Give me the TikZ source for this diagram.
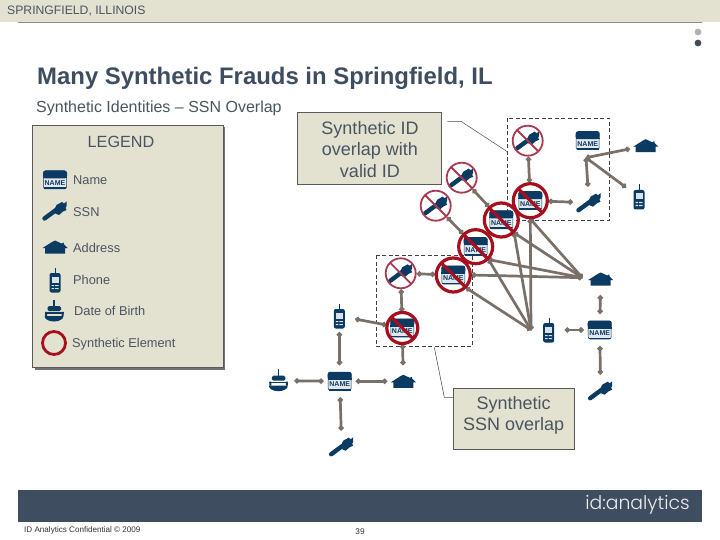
\documentclass[tikz,border=0pt]{standalone}
\usepackage{fontspec}
\setmainfont{Liberation Sans}
\newfontfamily\logofont{Poppins Light}
\usetikzlibrary{arrows.meta}
\definecolor{navy}{HTML}{0B3A63}
\definecolor{tan}{HTML}{E3E1CF}
\definecolor{slatec}{HTML}{3F4D60}
\definecolor{textc}{HTML}{4A5562}
\definecolor{linkc}{HTML}{7A706A}
\definecolor{redc}{HTML}{A50F1E}
\definecolor{redl}{HTML}{A83A52}
\tikzset{
  x=1pt,y=-1pt,
  spot/.style={circle,inner sep=0pt,minimum size=32pt},
  spotbig/.style={circle,inner sep=0pt,minimum size=36pt},
  link/.style={draw=linkc,line width=2.7pt,{Circle[length=5pt,width=5pt]}-{Circle[length=5pt,width=5pt]}},
  dashbox/.style={draw=black!75,line width=0.6pt,dash pattern=on 4pt off 2.5pt},
  leader/.style={draw=black!70,line width=0.5pt},
  callout/.style={draw=black!65,line width=0.7pt,fill=tan},
  txt/.style={text=textc,inner sep=0pt},
  leglabel/.style={txt,anchor=west,font=\fontsize{12.8}{14}\selectfont},
  pics/nameic/.style={code={
    \fill[fill=white!88!navy,draw=navy,line width=0.5pt,rounded corners=2pt] (-11.5,-9)rectangle(11.5,9);
    \fill[navy,rounded corners=2.5pt] (-12,-1.5)--(-12,-9.5)--(12,-9.5)--(12,-1.5)--cycle;
    \fill[navy] (-12,-3) rectangle (12,-1.5);
    \fill[navy] (-11,7.5) rectangle (11,9.2);
    \node[inner sep=0pt,text=navy,font=\fontsize{7}{8}\selectfont\bfseries] at (0,3) {NAME};
  }},
  pics/keyic/.style={code={
    \draw[navy,line width=4.4pt,line cap=round] (-10.5,7.5)--(1,-1);
    \fill[navy] (-2,1.5)--(1.5,-6)--(7,-9)--(9,-7.5)--(11.5,-9.5)--(11.5,-5)--(10.5,-3)--(11.5,-1)--(8,0.5)--(4,4)--cycle;
  }},
  pics/houseic/.style={code={
    \fill[navy] (-12.5,1)--(-3,-5)--(0,-6.5)--(6.5,-3.5)--(8.5,-4.5)--(9,-2.5)--(12.5,1)--(10,1)--(10,6.5)--(-10,6.5)--(-10,1)--cycle;
  }},
  pics/phoneic/.style={code={
    \draw[navy,line width=0.9pt] (0.5,-12.5)--(0.5,-6);
    \fill[navy,rounded corners=2pt] (-5.5,-7)rectangle(5.5,12.5);
    \fill[white!85!navy] (-3.5,-3.5)rectangle(3.5,2.5);
    \fill[white!85!navy] (-3.5,5)rectangle(-1,6.2) (0,5)rectangle(3.5,6.2) (-3.5,8)rectangle(-1,9.2) (0,8)rectangle(3.5,9.2);
  }},
  pics/cakeic/.style={code={
    \draw[navy,line width=1.2pt] (0,-11.5)--(0,-4);
    \fill[navy,rounded corners=1.5pt] (-6.5,-5)rectangle(7,0);
    \fill[navy] (-9,0.8)--(9.5,0.8)--(9.5,2.5)--(-9,2.5)--cycle;
    \fill[navy] (-9.5,5)--(9.5,5) arc[start angle=0,end angle=-180,x radius=9.5,y radius=-5.5]--cycle;
    \fill[navy] (-9,0.8) rectangle (-7,5) (7.5,0.8) rectangle (9.5,5);
  }},
  pics/crossmark/.style n args={3}{code={
    \draw[#3,line width=#2pt] (0,0) circle[radius=#1];
    \draw[#3,line width=#2pt] (-#1*0.72,-#1*0.72)--(#1*0.72,#1*0.72);
  }},
}
\begin{document}
\begin{tikzpicture}
\useasboundingbox (0,0) rectangle (720,540);
\fill[white] (0,0) rectangle (720,540);
% header
\fill[tan] (0,0) rectangle (720,22);
\draw[black!45,line width=0.8pt] (18,22.3)--(702,22.3);
\node[txt,anchor=west,font=\fontsize{12.2}{14}\selectfont] (hdr) at (7,11.5) {SPRINGFIELD, ILLINOIS};
\fill[black!30] (698,32) circle[radius=3.4];
\fill[slatec] (698,43) circle[radius=3.4];
\node[anchor=west,inner sep=0pt,text=slatec,font=\fontsize{23.9}{27}\selectfont\bfseries] (title) at (37,78) {Many Synthetic Frauds in Springfield, IL};
\node[txt,anchor=west,font=\fontsize{16}{18}\selectfont] (sub) at (36,108.5) {Synthetic Identities – SSN Overlap};
% footer
\fill[slatec] (18,490) rectangle (702,522);
\node[anchor=east,inner sep=0pt,text=white!90!slatec,font=\logofont\fontsize{18.8}{20}\selectfont] (logo) at (690,505) {id:analytics};
\node[anchor=west,inner sep=0pt,text=black!80,font=\fontsize{8.1}{10}\selectfont] (conf) at (24,530) {ID Analytics Confidential © 2009};
\node[inner sep=0pt,text=black!80,font=\fontsize{8.3}{10}\selectfont] (pg) at (360,532) {39};
% legend
\fill[black!55] (35,127.5) rectangle (225,369.5);
\draw[callout] (32.8,125.3) rectangle (223,367.3);
\node[txt,font=\fontsize{16.2}{18}\selectfont] (leg) at (121,141.5) {LEGEND};
\pic at (55,180) {nameic};
\pic at (55,211) {keyic};
\pic at (55,247) {houseic};
\pic at (55,280) {phoneic};
\pic at (54,311) {cakeic};
\draw[redc,line width=2.8pt] (54,343) circle[radius=11.5];
\node[leglabel] (l1) at (73,180) {Name};
\node[leglabel] (l2) at (73,212) {SSN};
\node[leglabel] (l3) at (73,248) {Address};
\node[leglabel] (l4) at (73,280) {Phone};
\node[leglabel] (l5) at (74,311) {Date of Birth};
\node[leglabel] (l6) at (72,344) {Synthetic Element};
% dashed boxes
\draw[dashbox] (507.3,118.3) rectangle (609.7,220.3);
\draw[dashbox] (376.3,255.3) rectangle (472.3,346.3);
% callouts
\draw[callout] (297.2,112) rectangle (441.2,184);
\node[inner sep=0pt,text=textc,align=center,font=\fontsize{18}{21.5}\selectfont] (c1) at (370,149.5) {Synthetic ID\\overlap with\\valid ID};
\draw[callout] (453.3,388) rectangle (574,449);
\node[inner sep=0pt,text=textc,align=center,font=\fontsize{18}{21}\selectfont] (c2) at (513.7,415) {Synthetic\\SSN overlap};
\coordinate (la) at (447.3,121.3);
\coordinate (lb) at (461,121.3);
\coordinate (lc) at (507.3,151.7);
\draw[leader] (la)--(lb)--(lc);
\coordinate (ld) at (434.3,347.3);
\coordinate (le) at (444.3,397.3);
\coordinate (lf) at (453.3,397.3);
\draw[leader] (ld)--(le)--(lf);
% icon spots
\node[spot] (k1) at (527.7,140.7) {};
\node[spot] (n1) at (587.7,140.7) {};
\node[spot] (h1) at (645.7,145.7) {};
\node[spot] (k2) at (589,202.7) {};
\node[spot] (p1) at (639,197) {};
\node[spotbig] (na) at (530.3,200.7) {};
\node[spotbig] (nb) at (501.3,220) {};
\node[spotbig] (nc) at (475.7,246.7) {};
\node[spotbig] (nd) at (453.3,275) {};
\node[spot] (k3) at (461.7,177.7) {};
\node[spot] (k4) at (435.7,205.7) {};
\node[spot] (h2) at (600.7,279) {};
\node[spot] (k5) at (400.7,273.3) {};
\node[spot] (ne) at (402.3,328) {};
\node[spot] (p2) at (339.3,316) {};
\node[spot] (n2) at (339.7,381.3) {};
\node[spot] (cake) at (278.3,380.7) {};
\node[spot] (h3) at (403.3,381.3) {};
\node[spot] (k6) at (341.7,446.7) {};
\node[spot] (p3) at (548.7,330) {};
\node[spot] (n3) at (599.7,330) {};
\node[spot] (k7) at (600.7,390.7) {};
\coordinate (hubt) at (586,157.7);
\coordinate (hubh) at (582.3,277.7);
\coordinate (hubp) at (531,330);
% connectors
\draw[link] (hubt)--(h1);
\draw[link] (hubt)--(p1);
\draw[link] (hubt)--(k2);
\draw[link] (k1)--(na);
\draw[link] (na)--(k2);
\draw[link] (k3)--(nb);
\draw[link] (k4)--(nc);
\draw[link] (na.south)--(hubh);
\draw[link] (nb.south east)--(hubh);
\draw[link] (nc.south east)--(hubh);
\draw[link] (nd.east)--(hubh);
\draw[link] (na.south)--(hubp);
\draw[link] (nb.south east)--(hubp);
\draw[link] (nc.south east)--(hubp);
\draw[link] (nd.south east)--(hubp);
\draw[link] (k5)--(nd);
\draw[link] (k5)--(ne);
\draw[link] (p2)--(ne);
\draw[link] (ne)--(h3);
\draw[link] (p2)--(n2);
\draw[link] (n2)--(cake);
\draw[link] (n2)--(h3);
\draw[link] (n2)--(k6);
\draw[link] (h2)--(n3);
\draw[link] (p3)--(n3);
\draw[link] (n3)--(k7);
% icons
\pic at (k1) {keyic};
\pic at (k1) {crossmark={15}{1.8}{redl}};
\pic at (n1) {nameic};
\pic at (h1) {houseic};
\pic at (k2) {keyic};
\pic at (p1) {phoneic};
\foreach \nn in {na,nb,nc,nd} {
  \pic at (\nn) {nameic};
  \pic at (\nn) {crossmark={17}{3.2}{redc}};
}
\pic at (ne) {nameic};
\pic at (ne) {crossmark={15.5}{3.2}{redc}};
\pic at (k3) {keyic};
\pic at (k3) {crossmark={15}{1.8}{redl}};
\pic at (k4) {keyic};
\pic at (k4) {crossmark={15}{1.8}{redl}};
\pic at (k5) {keyic};
\pic at (k5) {crossmark={15}{1.8}{redl}};
\pic at (h2) {houseic};
\pic at (p2) {phoneic};
\pic at (n2) {nameic};
\pic at (cake) {cakeic};
\pic at (h3) {houseic};
\pic at (k6) {keyic};
\pic at (p3) {phoneic};
\pic at (n3) {nameic};
\pic at (k7) {keyic};
\end{tikzpicture}
\end{document}
